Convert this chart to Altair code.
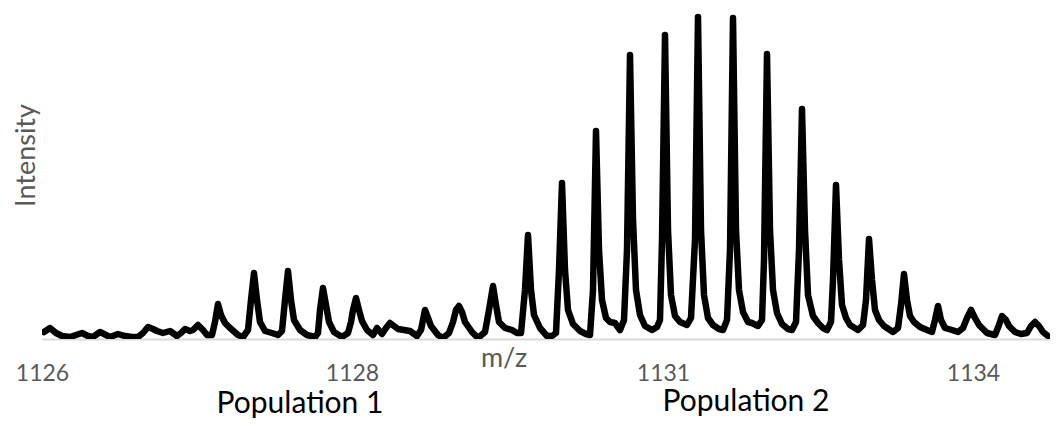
import altair as alt
import pandas as pd

# Spectrum trace: position along the (category-style) m/z axis and intensity (arbitrary units)
position = [
    2, 8, 14, 20, 28, 34, 40, 46, 51, 58,
    64, 68, 76, 83, 90, 96, 101, 106, 111, 115,
    121, 128, 135, 139, 143, 148, 151, 156, 161, 165,
    170, 173, 176, 179, 183, 188, 196, 201, 206, 209,
    212, 215, 218, 223, 230, 236, 240, 243, 246, 249,
    252, 258, 265, 273, 276, 278, 281, 284, 287, 292,
    300, 306, 309, 311, 314, 317, 320, 325, 331, 335,
    340, 344, 348, 352, 356, 362, 368, 375, 379, 383,
    386, 389, 396, 401, 407, 411, 414, 417, 420, 423,
    430, 436, 443, 447, 451, 454, 457, 463, 470, 475,
    479, 483, 486, 489, 492, 498, 505, 510, 514, 517,
    520, 523, 526, 531, 538, 544, 548, 551, 554, 557,
    560, 564, 568, 573, 578, 582, 585, 588, 591, 594,
    598, 603, 610, 615, 618, 620, 623, 626, 629, 633,
    638, 645, 649, 653, 656, 659, 662, 666, 671, 677,
    681, 685, 688, 691, 694, 697, 701, 706, 710, 716,
    720, 722, 725, 728, 731, 735, 740, 746, 750, 754,
    757, 760, 763, 766, 771, 776, 781, 785, 789, 791,
    794, 797, 800, 804, 808, 816, 821, 824, 827, 830,
    833, 837, 842, 851, 856, 859, 862, 865, 868, 872,
    878, 885, 890, 893, 896, 899, 903, 910, 916, 921,
    925, 929, 933, 937, 945, 953, 957, 960, 964, 967,
    973, 979, 985, 989, 993, 997, 1001, 1006, 1011, 1016,
]
intensity = [
    7, 11, 6, 3, 2, 4, 6, 3, 2, 7,
    4, 2, 5, 3, 2, 2, 6, 12, 10, 8,
    6, 8, 3, 6, 10, 8, 9, 14, 9, 4,
    4, 17, 35, 24, 16, 11, 4, 2, 9, 39,
    66, 39, 17, 8, 6, 4, 8, 39, 68, 39,
    19, 9, 4, 2, 6, 29, 51, 34, 17, 7,
    2, 6, 17, 29, 41, 29, 18, 9, 4, 11,
    5, 11, 16, 13, 10, 9, 8, 3, 9, 29,
    21, 13, 4, 1, 6, 17, 29, 33, 27, 17,
    7, 1, 7, 29, 53, 34, 17, 11, 9, 6,
    6, 49, 104, 49, 24, 11, 3, 3, 6, 69,
    156, 69, 29, 15, 8, 5, 4, 49, 208, 89,
    39, 21, 17, 16, 9, 19, 89, 284, 119, 49,
    24, 13, 9, 12, 19, 99, 304, 109, 44, 23,
    17, 14, 21, 99, 322, 109, 44, 21, 14, 10,
    9, 19, 89, 321, 109, 49, 27, 17, 16, 13,
    19, 79, 285, 109, 49, 26, 15, 10, 9, 17,
    89, 230, 109, 44, 23, 16, 11, 9, 17, 59,
    154, 79, 34, 21, 14, 9, 14, 39, 100, 59,
    29, 19, 13, 7, 11, 34, 65, 39, 23, 17,
    12, 9, 7, 19, 33, 19, 11, 9, 7, 11,
    21, 29, 21, 14, 6, 4, 14, 23, 19, 13,
    7, 5, 6, 13, 17, 13, 7, 3, 1, 0,
]

tick_positions = [0, 310, 621, 931]
tick_labels = ["1126", "1128", "1131", "1134"]

FONT = "Lato"

df = pd.DataFrame({"pos": position, "intensity": intensity})

label_expr = " : ".join(
    f"datum.value == {p} ? '{l}'" for p, l in zip(tick_positions, tick_labels)
) + " : ''"

line = alt.Chart(df).mark_line(
    color="#000000", strokeWidth=6.5, strokeJoin="round", strokeCap="round", clip=True
).encode(
    x=alt.X(
        "pos:Q",
        scale=alt.Scale(domain=[0, 1008], nice=False, zero=False),
        axis=alt.Axis(
            values=tick_positions,
            labelExpr=label_expr,
            title=None,
            grid=False,
            ticks=False,
            domainColor="#d9d9d9",
            domainWidth=2,
            labelColor="#595959",
            labelFont=FONT,
            labelFontSize=23,
            labelPadding=23,
            labelFlush=False,
        ),
    ),
    y=alt.Y(
        "intensity:Q",
        scale=alt.Scale(domain=[0, 331], nice=False),
        axis=alt.Axis(
            title="Intensity",
            labels=False,
            ticks=False,
            grid=False,
            domain=False,
            titleFont=FONT,
            titleFontSize=27,
            titleFontWeight="normal",
            titleColor="#595959",
            titleX=-8,
            titleY=147,
            titleAngle=270,
            titleAlign="center",
            titleBaseline="alphabetic",
        ),
    ),
)

def note(text, x, y, size, color):
    return alt.Chart(pd.DataFrame({"t": [text]})).mark_text(
        font=FONT, fontSize=size, color=color, align="center", baseline="middle"
    ).encode(text="t:N", x=alt.value(x), y=alt.value(y))

chart = alt.layer(
    line,
    note("m/z", 462, 351, 27, "#595959"),
    note("Population 1", 258, 396, 30, "#000000"),
    note("Population 2", 704, 394, 30, "#000000"),
).properties(
    width=1008,
    height=331,
    autosize=alt.AutoSizeParams(type="none"),
    padding={"left": 34, "top": 0, "right": 0, "bottom": 92},
).configure_view(stroke=None)

chart.save("out.html", embed_options={"renderer": "svg", "actions": False})
